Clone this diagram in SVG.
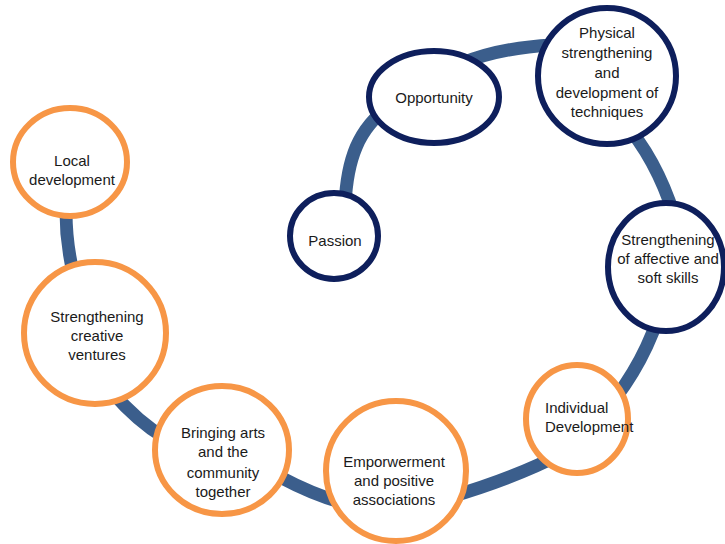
<svg xmlns="http://www.w3.org/2000/svg" width="725" height="544" viewBox="0 0 725 544">
  <style>
    .link { fill: none; stroke: #3B5E8C; stroke-width: 13; stroke-linecap: butt; }
    .navy { fill: #FFFFFF; stroke: #0E1F5C; stroke-width: 6; }
    .orange { fill: #FFFFFF; stroke: #F79646; stroke-width: 6; }
    text { font-family: "Liberation Sans", Arial, sans-serif; font-size: 15px; fill: #1A1A1A; text-anchor: middle; }
    text.left { text-anchor: start; }
  </style>
  <rect width="725" height="544" fill="#FFFFFF"/>

  <!-- spiral connector running behind the circles -->
  <g id="connectors">
    <path class="link" d="M 345 205 C 347 160, 358 128, 390 106"/>
    <path class="link" d="M 460 64 Q 498 48 552 45"/>
    <path class="link" d="M 622 120 Q 656 158 674 215"/>
    <path class="link" d="M 662 305 Q 646 362 606 410"/>
    <path class="link" d="M 565 452 Q 515 478 450 497"/>
    <path class="link" d="M 340 502 Q 312 494 280 477"/>
    <path class="link" d="M 165 438 Q 138 422 112 392"/>
    <path class="link" d="M 73 272 Q 66 242 66 212"/>
  </g>

  <g id="passion">
    <ellipse class="navy" cx="334" cy="236" rx="44" ry="43"/>
    <text x="335" y="246">Passion</text>
  </g>

  <g id="opportunity">
    <ellipse class="navy" cx="434" cy="97" rx="65" ry="46"/>
    <text x="434" y="103">Opportunity</text>
  </g>

  <g id="physical">
    <ellipse class="navy" cx="607" cy="76" rx="69" ry="68"/>
    <text x="607" y="38">Physical</text>
    <text x="607" y="58">strengthening</text>
    <text x="607" y="78">and</text>
    <text x="607" y="98">development of</text>
    <text x="607" y="117">techniques</text>
  </g>

  <g id="affective">
    <ellipse class="navy" cx="666" cy="267" rx="58" ry="64"/>
    <text x="668" y="245">Strengthening</text>
    <text x="668" y="264">of affective and</text>
    <text x="668" y="283">soft skills</text>
  </g>

  <g id="individual">
    <ellipse class="orange" cx="577" cy="419" rx="51" ry="54"/>
    <text class="left" x="545" y="413">Individual</text>
    <text class="left" x="545" y="432">Development</text>
  </g>

  <g id="empowerment">
    <ellipse class="orange" cx="396" cy="471" rx="70" ry="70"/>
    <text x="394" y="467">Emporwerment</text>
    <text x="394" y="486">and positive</text>
    <text x="394" y="505">associations</text>
  </g>

  <g id="bringing-arts">
    <ellipse class="orange" cx="222" cy="450" rx="67" ry="64"/>
    <text x="223" y="438">Bringing arts</text>
    <text x="223" y="457">and the</text>
    <text x="223" y="478">community</text>
    <text x="223" y="497">together</text>
  </g>

  <g id="creative">
    <ellipse class="orange" cx="95" cy="333" rx="71" ry="71"/>
    <text x="97" y="322">Strengthening</text>
    <text x="97" y="341">creative</text>
    <text x="97" y="360">ventures</text>
  </g>

  <g id="local">
    <ellipse class="orange" cx="70" cy="162" rx="57" ry="54"/>
    <text x="72" y="166">Local</text>
    <text x="72" y="185">development</text>
  </g>
</svg>
